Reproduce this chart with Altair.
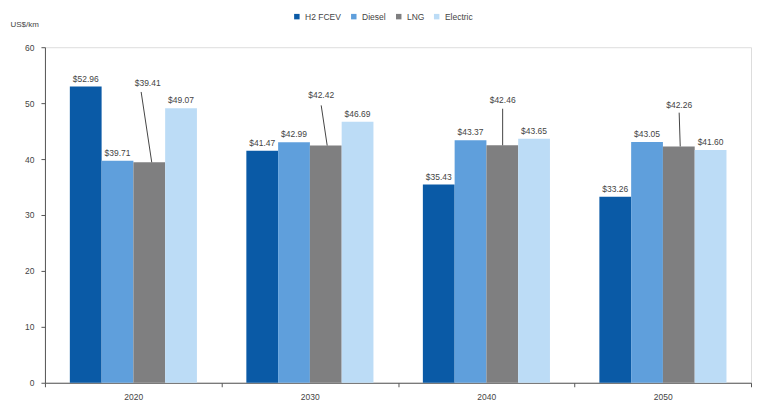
import altair as alt
import pandas as pd

years = ["2020", "2030", "2040", "2050"]
fuels = ["H2 FCEV", "Diesel", "LNG", "Electric"]
colors = ["#0a5aa6", "#5f9fdc", "#7f7f80", "#bcdcf6"]
h2 = [52.96, 41.47, 35.43, 33.26]
diesel = [39.71, 42.99, 43.37, 43.05]
lng = [39.41, 42.42, 42.46, 42.26]
electric = [49.07, 46.69, 43.65, 41.60]
series = [h2, diesel, lng, electric]

# LNG call-out labels (raised, with leader lines)
lng_label_y = [53.6, 51.4, 50.5, 49.6]
lng_leader_top = [52.0, 49.6, 49.0, 48.3]
lng_label_x = [0.582, 0.565, 0.593, 0.593]
lng_leader_x_top = [0.545, 0.565, 0.593, 0.593]
lng_leader_x_bot = [0.605, 0.599, 0.593, 0.599]

group_pad = 0.141
bar_w = 0.18

rows = []
for i, y in enumerate(years):
    for j, f in enumerate(fuels):
        x0 = i + group_pad + j * bar_w
        v = series[j][i]
        rows.append({
            "year": y, "fuel": f, "value": v, "base": 0,
            "x0": x0, "x1": x0 + bar_w,
            "label": f"${v:.2f}",
            "ly": v, "lx": x0 + bar_w / 2,
        })
df = pd.DataFrame(rows)

lab = df[df.fuel != "LNG"].copy()
lng_df = pd.DataFrame({
    "label": [f"${v:.2f}" for v in lng],
    "lx": [i + x for i, x in enumerate(lng_label_x)],
    "ly": lng_label_y,
    "tx": [i + x for i, x in enumerate(lng_leader_x_top)],
    "bx": [i + x for i, x in enumerate(lng_leader_x_bot)],
    "ty": lng_leader_top,
    "by": lng,
})

year_expr = "[" + ",".join(f"'{y}'" for y in years) + "]"
xscale = alt.Scale(domain=[0, len(years)], nice=False, zero=False)
yscale = alt.Scale(domain=[0, 60], nice=False)

xaxis = alt.Axis(
    values=[k * 0.5 for k in range(2 * len(years) + 1)],
    labelExpr=f"datum.value % 1 == 0.5 ? {year_expr}[floor(datum.value)] : ''",
    tickOpacity=alt.ExprRef("datum.value % 1 == 0 ? 1 : 0"),
    title=None, grid=False, domainColor="#555555", tickColor="#555555",
    tickSize=4, labelFontSize=8.5, labelColor="#444444", labelPadding=6,
    labelFont="Liberation Sans",
)
yaxis = alt.Axis(
    values=list(range(0, 61, 10)), title="US$/km", titleAngle=0,
    titleAlign="left", titleX=-35, titleY=-19, titleFontSize=8,
    titleFontWeight="normal", titleColor="#444444", titleFont="Liberation Sans",
    grid=False, domainColor="#555555", tickColor="#555555", tickSize=4,
    labelFontSize=8.5, labelColor="#444444", labelFont="Liberation Sans",
    labelPadding=7,
)

bars = alt.Chart(df).mark_bar().encode(
    x=alt.X("x0:Q", scale=xscale, axis=xaxis),
    x2="x1:Q",
    y=alt.Y("value:Q", scale=yscale, axis=yaxis),
    y2="base:Q",
    color=alt.Color(
        "fuel:N", scale=alt.Scale(domain=fuels, range=colors),
        legend=alt.Legend(
            title=None, orient="none", direction="horizontal",
            legendX=248, legendY=-35, symbolType="square", symbolSize=30,
            labelFontSize=8.5, labelColor="#444444", columnPadding=8,
            symbolStrokeWidth=0, labelFont="Liberation Sans",
        ),
    ),
)

texts = alt.Chart(lab).mark_text(
    dy=-8, fontSize=8.5, color="#444444", font="Liberation Sans"
).encode(
    x=alt.X("lx:Q", scale=xscale), y=alt.Y("ly:Q", scale=yscale), text="label:N"
)

leaders = alt.Chart(lng_df).mark_rule(color="#444444", strokeWidth=1).encode(
    x=alt.X("tx:Q", scale=xscale), x2="bx:Q",
    y=alt.Y("ty:Q", scale=yscale), y2="by:Q",
)

lng_text = alt.Chart(lng_df).mark_text(
    fontSize=8.5, color="#444444", font="Liberation Sans"
).encode(
    x=alt.X("lx:Q", scale=xscale), y=alt.Y("ly:Q", scale=yscale), text="label:N"
)

chart = alt.layer(bars, texts, leaders, lng_text).properties(
    width=707, height=336,
    autosize=alt.AutoSizeParams(type="none"),
    padding={"left": 37, "top": 39, "right": 4, "bottom": 25},
).configure_view(stroke=None).configure(background="white")

chart.save("out.html", embed_options={"renderer": "svg", "actions": False})
